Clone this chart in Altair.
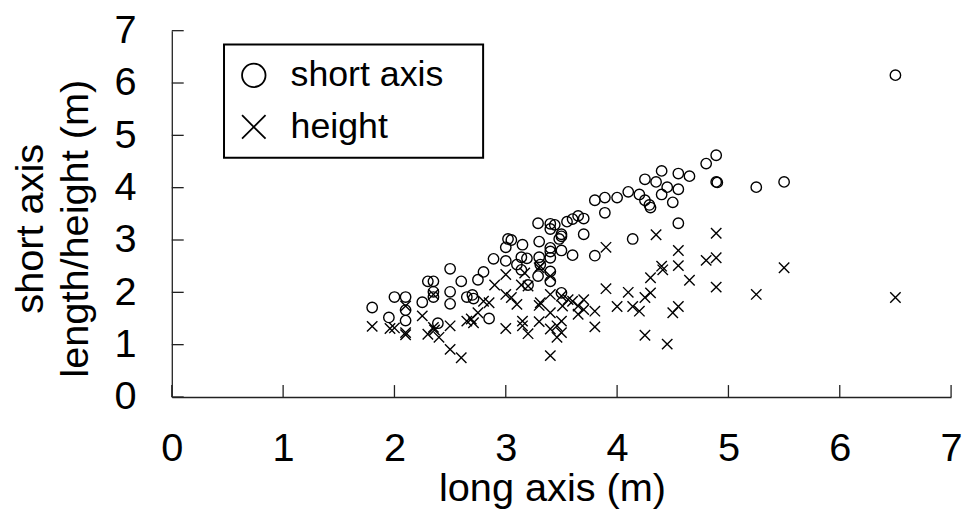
import altair as alt
import pandas as pd

# short axis length (circles): long axis (m), short axis (m)
circ_x = [1.80, 1.95, 2.00, 2.10, 2.10, 2.10, 2.25, 2.30, 2.35, 2.35, 2.35, 2.39,
          2.50, 2.50, 2.50, 2.60, 2.65, 2.70, 2.71, 2.75, 2.80, 2.85, 2.89, 3.00,
          3.00, 3.02, 3.05, 3.10, 3.14, 3.14, 3.15, 3.19, 3.20, 3.29, 3.29, 3.30,
          3.30, 3.31, 3.40, 3.44, 3.40, 3.40, 3.40, 3.40, 3.40, 3.40, 3.48, 3.50,
          3.50, 3.50, 3.50, 3.55, 3.60, 3.65, 3.70, 3.60, 3.70, 3.80, 3.80, 3.89,
          3.89, 4.00, 4.10, 4.14, 4.20, 4.25, 4.25, 4.29, 4.30, 4.35, 4.40, 4.40,
          4.45, 4.50, 4.55, 4.55, 4.55, 4.65, 4.80, 4.89, 4.89, 4.90, 5.25, 5.50,
          6.50]
circ_y = [1.71, 1.52, 1.91, 1.91, 1.66, 1.46, 1.81, 2.21, 2.21, 2.01, 1.91, 1.41,
          2.45, 2.01, 1.78, 2.21, 1.91, 1.95, 1.88, 2.24, 2.39, 1.50, 2.64, 2.60,
          2.86, 3.02, 3.00, 2.53, 2.43, 2.67, 2.91, 2.65, 2.14, 2.31, 3.32, 2.97,
          2.67, 2.53, 3.31, 3.29, 3.21, 2.85, 2.78, 2.66, 2.40, 2.21, 3.02, 3.11,
          3.07, 2.80, 1.99, 3.35, 3.40, 3.46, 3.41, 2.71, 3.11, 2.70, 3.76, 3.81,
          3.52, 3.81, 3.92, 3.02, 3.87, 4.16, 3.76, 3.67, 3.62, 4.11, 4.32, 3.87,
          4.01, 3.72, 4.27, 3.97, 3.32, 4.22, 4.46, 4.62, 4.11, 4.10, 4.01, 4.11,
          6.15]

# height (crosses): long axis (m), height (m)
cross_x = [1.80, 1.96, 2.00, 2.10, 2.10, 2.10, 2.25, 2.30, 2.35, 2.36, 2.40, 2.35,
           2.50, 2.50, 2.60, 2.65, 2.69, 2.71, 2.75, 2.80, 2.85, 2.90, 3.00, 3.00,
           3.05, 3.10, 3.00, 3.15, 3.15, 3.20, 3.14, 3.20, 3.17, 3.30, 3.30, 3.30,
           3.40, 3.40, 3.50, 3.56, 3.60, 3.70, 3.65, 3.70, 3.51, 3.65, 3.40, 3.50,
           3.40, 3.46, 3.50, 3.46, 3.40, 3.80, 3.80, 3.90, 3.90, 4.00, 4.10, 4.14,
           4.20, 4.25, 4.30, 4.30, 4.25, 4.35, 4.40, 4.41, 4.45, 4.50, 4.55, 4.55,
           4.55, 4.65, 4.80, 4.89, 4.89, 4.89, 5.25, 5.50, 6.50, 3.31, 3.31]
cross_y = [1.35, 1.31, 1.32, 1.23, 1.19, 1.74, 1.55, 1.20, 1.33, 1.28, 1.14, 1.96,
           1.36, 0.91, 0.75, 1.45, 1.49, 1.42, 1.61, 1.83, 1.80, 2.14, 2.34, 1.96,
           1.90, 1.77, 1.31, 1.45, 1.36, 1.21, 2.14, 2.12, 2.37, 2.47, 1.75, 1.44,
           2.31, 1.96, 1.93, 1.86, 1.83, 1.86, 1.74, 1.67, 1.74, 1.58, 1.61, 1.45,
           1.30, 1.14, 1.23, 1.36, 0.79, 1.64, 1.34, 2.07, 2.86, 1.73, 2.00, 1.73,
           1.64, 1.90, 1.99, 2.28, 1.18, 3.10, 2.50, 2.43, 1.01, 1.61, 1.73, 2.51,
           2.80, 2.23, 2.61, 2.66, 3.13, 2.10, 1.96, 2.47, 1.90, 1.80, 2.50]

series_names = ["short axis", "height"]
tick_values = [0, 1, 2, 3, 4, 5, 6, 7]
x_title = "long axis (m)"
y_title = ["short axis", "length/height (m)"]

df = pd.concat([
    pd.DataFrame({"long": circ_x, "value": circ_y, "series": series_names[0]}),
    pd.DataFrame({"long": cross_x, "value": cross_y, "series": series_names[1]}),
], ignore_index=True)

W, H = 785, 369
FONT = "Liberation Sans"
CROSS = "M-1,-1L1,1M-1,1L1,-1"

x_enc = alt.X("long:Q", scale=alt.Scale(domain=[0, 7], nice=False, zero=True),
              axis=alt.Axis(values=tick_values, ticks=False, tickSize=0, grid=False,
                            labelPadding=32, labelFontSize=40, labelFont=FONT,
                            labelColor="black", domainColor="#222", domainWidth=1.3,
                            title=x_title, titleFont=FONT, titleFontSize=40,
                            titleFontWeight="normal", titleColor="black",
                            titleX=383, titleY=104, titleAlign="center",
                            titleBaseline="alphabetic", labelFlush=False))
y_enc = alt.Y("value:Q", scale=alt.Scale(domain=[0, 7], nice=False, zero=True),
              axis=alt.Axis(values=tick_values, ticks=False, tickSize=0, grid=False,
                            labelPadding=36, labelFontSize=40, labelFont=FONT,
                            labelColor="black", domainColor="#222", domainWidth=1.3,
                            title=y_title, titleFont=FONT, titleFontSize=40,
                            titleFontWeight="normal", titleColor="black",
                            titleAngle=270, titleX=-130, titleY=199,
                            titleAlign="center", titleBaseline="alphabetic",
                            titleLineHeight=45, labelFlush=False))

points = alt.Chart(df).mark_point(filled=False, color="black", strokeWidth=1.4,
                                  size=110, opacity=1).encode(
    x=x_enc,
    y=y_enc,
    shape=alt.Shape("series:N",
                    scale=alt.Scale(domain=series_names, range=["circle", CROSS]),
                    legend=alt.Legend(title=None, orient="none", legendX=64.6,
                                      legendY=27, padding=0, symbolSize=560,
                                      symbolStrokeWidth=1.8,
                                      symbolStrokeColor="black",
                                      symbolFillColor="transparent",
                                      labelFont=FONT, labelFontSize=36,
                                      labelColor="black", labelOffset=19,
                                      rowPadding=16, labelLimit=400)),
)

xt = alt.Chart(pd.DataFrame({"long": tick_values})).mark_rule(
    color="#222", strokeWidth=1.3).encode(
    x=x_enc, y=alt.value(H), y2=alt.value(H - 12))

yt = alt.Chart(pd.DataFrame({"value": tick_values})).mark_rule(
    color="#222", strokeWidth=1.3).encode(
    y=y_enc, x=alt.value(0), x2=alt.value(12))

frame = alt.Chart(pd.DataFrame({"a": [0]})).mark_rect(
    fill="white", fillOpacity=0, stroke="black", strokeWidth=2).encode(
    x=alt.value(52.6), x2=alt.value(313.6), y=alt.value(14), y2=alt.value(128))

chart = alt.layer(xt, yt, points, frame).properties(
    width=W, height=H,
    autosize=alt.AutoSizeParams(type="none"),
    padding={"left": 165, "top": 21, "right": 12, "bottom": 113},
    background="white",
).configure_view(strokeWidth=0)

chart.save("out.html", embed_options={"renderer": "svg", "actions": False})
